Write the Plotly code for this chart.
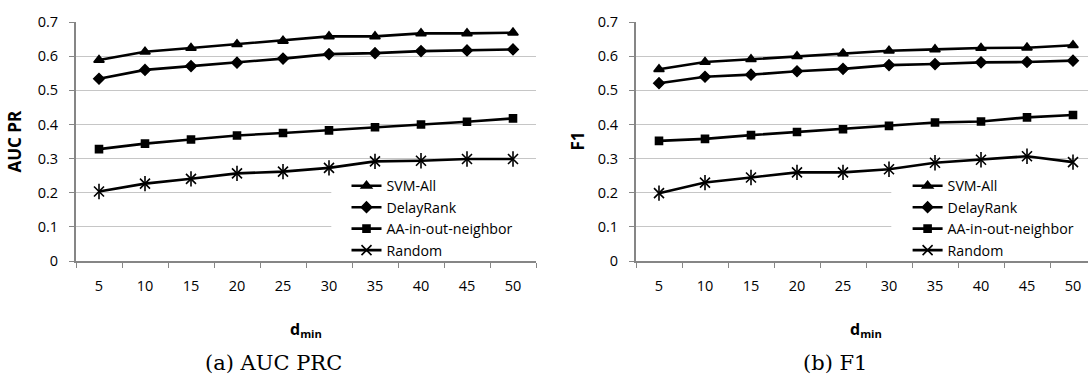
import plotly.graph_objects as go

# d_min thresholds (x categories)
d_min = ["5", "10", "15", "20", "25", "30", "35", "40", "45", "50"]
y_ticks = [0, 0.1, 0.2, 0.3, 0.4, 0.5, 0.6, 0.7]

# (a) AUC PR
svm_auc = [0.589, 0.613, 0.624, 0.635, 0.645, 0.658, 0.658, 0.667, 0.667, 0.669]
delay_auc = [0.534, 0.560, 0.571, 0.581, 0.593, 0.606, 0.609, 0.615, 0.617, 0.620]
aa_auc = [0.328, 0.344, 0.356, 0.368, 0.375, 0.383, 0.392, 0.400, 0.408, 0.418]
rand_auc = [0.204, 0.227, 0.241, 0.257, 0.262, 0.273, 0.292, 0.294, 0.299, 0.299]

# (b) F1
svm_f1 = [0.562, 0.583, 0.591, 0.600, 0.608, 0.616, 0.620, 0.624, 0.625, 0.632]
delay_f1 = [0.521, 0.540, 0.546, 0.556, 0.563, 0.574, 0.577, 0.582, 0.583, 0.587]
aa_f1 = [0.352, 0.358, 0.369, 0.378, 0.386, 0.396, 0.406, 0.409, 0.421, 0.428]
rand_f1 = [0.199, 0.230, 0.245, 0.260, 0.260, 0.269, 0.288, 0.297, 0.307, 0.290]

series_names = ["SVM-All", "DelayRank", "AA-in-out-neighbor", "Random"]

W, H = 1088, 376
FONT = "Open Sans"
AXIS_GRAY = "#868686"
GRID_GRAY = "#c6c6c6"

symbols = ["triangle-up", "diamond", "square", "x-thin-open"]
sizes = [9, 8, 7, 10]

fig = go.Figure()


def add_panel(values, xa, ya, legend_name):
    for name, vals, sym, sz in zip(series_names, values, symbols, sizes):
        fig.add_trace(go.Scatter(
            x=d_min, y=vals, name=name, mode="lines+markers",
            xaxis=xa, yaxis=ya, legend=legend_name,
            line=dict(color="black", width=2.6),
            marker=dict(symbol=sym, size=sz, color="black",
                        line=dict(color="black", width=1.6)),
        ))
    # vertical stroke that turns the Random "x" into a six-armed star
    fig.add_trace(go.Scatter(
        x=d_min, y=values[3], mode="markers", showlegend=False,
        xaxis=xa, yaxis=ya, legend=legend_name, hoverinfo="skip",
        marker=dict(symbol="line-ns-open", size=11, color="black",
                    line=dict(color="black", width=1.6)),
    ))


add_panel([svm_auc, delay_auc, aa_auc, rand_auc], "x", "y", "legend")
add_panel([svm_f1, delay_f1, aa_f1, rand_f1], "x2", "y2", "legend2")

y_dom = [1 - 264.5 / H, 1 - 12.7 / H]
xaxis_common = dict(
    type="category", tickson="boundaries", ticks="outside", ticklen=5,
    tickcolor=AXIS_GRAY, tickwidth=1, showline=True, linecolor=AXIS_GRAY,
    linewidth=2, showgrid=False, zeroline=False, ticklabelstandoff=10,
    tickfont=dict(family=FONT, size=14.5, color="black"),
)
yaxis_common = dict(
    range=[0, 0.7], tickvals=y_ticks, ticks="outside", ticklen=5,
    tickcolor=AXIS_GRAY, tickwidth=1, showline=True, linecolor=AXIS_GRAY,
    linewidth=2, showgrid=True, gridcolor=GRID_GRAY, gridwidth=1,
    zeroline=False, ticklabelstandoff=8, domain=y_dom,
    tickfont=dict(family=FONT, size=14.5, color="black"),
)

legend_common = dict(
    xanchor="left", yanchor="top", bgcolor="rgba(0,0,0,0)",
    font=dict(family=FONT, size=14.2, color="black"),
    tracegroupgap=0, itemwidth=30,
)

fig.update_layout(
    width=W, height=H, margin=dict(l=0, r=0, t=0, b=0),
    paper_bgcolor="white", plot_bgcolor="white",
    xaxis=dict(domain=[76 / W, 536 / W], range=[-0.5, 9.5], anchor="y", **xaxis_common),
    yaxis=dict(anchor="x", **yaxis_common),
    xaxis2=dict(domain=[636 / W, 1.0], range=[-0.5, 9.5 - 8 / 46], anchor="y2", **xaxis_common),
    yaxis2=dict(anchor="x2", **yaxis_common),
    legend=dict(x=346.5 / W, y=1 - 168.5 / H, **legend_common),
    legend2=dict(x=907.6 / W, y=1 - 168.5 / H, **legend_common),
    showlegend=True,
)

# white legend panels that interrupt the lower gridlines
for xr, yr in (("x", "y"), ("x2", "y2")):
    fig.add_shape(type="rect", xref=xr, yref=yr, x0=5.05, x1=9.5, y0=0, y1=0.25,
                  fillcolor="white", line=dict(width=0), layer="between")

title_font = dict(family=FONT, size=17, color="black")
dmin_font = dict(family=FONT, size=16, color="black")
cap_font = dict(family="DejaVu Serif", size=21, color="black")
annots = [
    dict(text="<b>AUC PR</b>", x=15 / W, y=1 - 138.6 / H, textangle=-90, font=title_font),
    dict(text="<b>F1</b>", x=578 / W, y=1 - 138.6 / H, textangle=-90, font=title_font),
    dict(text="<b>d<sub>min</sub></b>", x=306 / W, y=1 - 337 / H, font=dmin_font),
    dict(text="<b>d<sub>min</sub></b>", x=866 / W, y=1 - 337 / H, font=dmin_font),
    dict(text="(a) AUC PRC", x=273.6 / W, y=1 - 371.5 / H, font=cap_font),
    dict(text="(b) F1", x=835 / W, y=1 - 371.5 / H, font=cap_font),
]
for a in annots:
    fig.add_annotation(xref="paper", yref="paper", showarrow=False,
                       xanchor="center", yanchor="middle", **a)

fig.write_html("out.html")
